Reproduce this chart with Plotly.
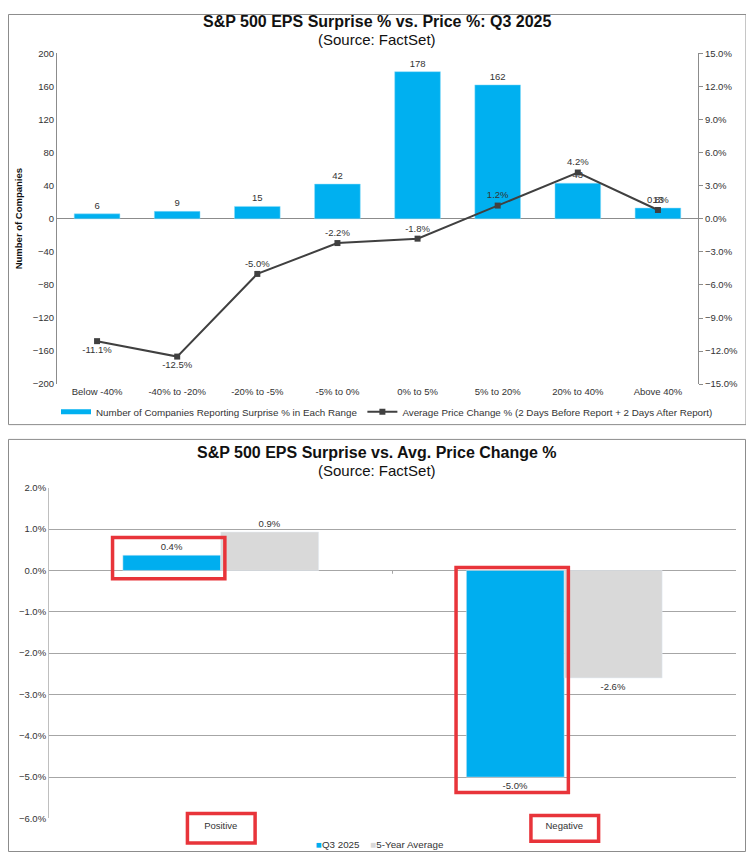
"""Two FactSet-style charts: EPS surprise buckets vs. price reaction, Q3 2025."""

import plotly.graph_objects as go

# the page body keeps its default 8px margin, so the figure is drawn inside it
PAGE_W, PAGE_H, OFF = 754, 865, 8
W, H = PAGE_W - 2 * OFF, PAGE_H - 2 * OFF

# --- top chart data ---
surprise_ranges = [
    "Below -40%", "-40% to -20%", "-20% to -5%", "-5% to 0%",
    "0% to 5%", "5% to 20%", "20% to 40%", "Above 40%",
]
company_counts = [6, 9, 15, 42, 178, 162, 43, 13]
avg_price_change = [-11.1, -12.5, -5.0, -2.2, -1.8, 1.2, 4.2, 0.8]
price_label_pos = [
    "bottom center", "bottom center", "top center", "top center",
    "top center", "top center", "top center", "top center",
]

# --- bottom chart data ---
surprise_sign = ["Positive", "Negative"]
q3_2025_change = [0.37, -5.0]
five_year_avg_change = [0.93, -2.6]

BLUE = "#00B0F0"
GREY_BAR = "#D9D9D9"
LINE = "#404040"
RED = "#E8343A"
AXIS = "#8C8C8C"
FONT = "Liberation Sans, Arial, sans-serif"


def px_x(p):
    """Page pixel column -> paper x."""
    return (p - OFF) / W


def px_y(p):
    """Page pixel row -> paper y."""
    return 1 - (p - OFF) / H


fig = go.Figure()

# top: bars on the left axis, price line on the right axis
fig.add_trace(go.Bar(
    x=surprise_ranges, y=company_counts, marker_color=BLUE,
    marker_line=dict(color="#8FDCF8", width=0.5),
    text=company_counts, textposition="outside",
    textfont=dict(size=9.5, color="#333"), cliponaxis=False,
    xaxis="x", yaxis="y", showlegend=False,
))
fig.add_trace(go.Scatter(
    x=[None], y=[None], mode="lines", line=dict(color=BLUE, width=5),
    name="Number of Companies Reporting Surprise % in Each Range",
    xaxis="x", yaxis="y", legend="legend",
))
fig.add_trace(go.Scatter(
    x=surprise_ranges, y=avg_price_change, mode="lines+markers+text",
    line=dict(color=LINE, width=2),
    marker=dict(symbol="square", size=6, color=LINE),
    text=[f"{v:.1f}%" for v in avg_price_change],
    textposition=price_label_pos, textfont=dict(size=9.5, color="#333"),
    cliponaxis=False,
    name="Average Price Change % (2 Days Before Report + 2 Days After Report)",
    xaxis="x", yaxis="y2", legend="legend",
))

# bottom: grouped bars
fig.add_trace(go.Bar(
    x=surprise_sign, y=q3_2025_change, name="Q3 2025", marker_color="#00AEEF",
    texttemplate="%{y:.1f}%", textposition="outside",
    textfont=dict(size=9.5, color="#333"), cliponaxis=False,
    xaxis="x3", yaxis="y3", showlegend=False,
))
fig.add_trace(go.Bar(
    x=surprise_sign, y=five_year_avg_change, name="5-Year Average",
    marker_color=GREY_BAR,
    texttemplate="%{y:.1f}%", textposition="outside",
    textfont=dict(size=9.5, color="#333"), cliponaxis=False,
    xaxis="x3", yaxis="y3", showlegend=False,
))

tick_font = dict(family=FONT, size=9.5, color="#333")

fig.update_layout(
    width=W, height=H,
    margin=dict(l=0, r=0, t=0, b=0),
    paper_bgcolor="white", plot_bgcolor="white",
    font=dict(family=FONT, size=10, color="#333"),
    barmode="group", bargap=0.43,
    xaxis=dict(
        domain=[px_x(57), px_x(698)], anchor="y",
        showline=False, showgrid=False, ticks="", tickfont=tick_font,
    ),
    yaxis=dict(
        domain=[px_y(383), px_y(48)], anchor="x",
        range=[-200, 200], dtick=40, showgrid=False,
        showline=True, linecolor=AXIS, linewidth=1,
        zeroline=True, zerolinecolor=AXIS, zerolinewidth=1,
        ticks="", tickfont=tick_font,
    ),
    yaxis2=dict(
        overlaying="y", side="right", anchor="x",
        range=[-15, 15], dtick=3, tickformat=".1f", ticksuffix="%",
        showgrid=False, zeroline=False,
        showline=True, linecolor=AXIS, linewidth=1,
        ticks="outside", ticklen=4, tickcolor=AXIS, tickfont=tick_font,
    ),
    xaxis3=dict(
        domain=[px_x(49), px_x(736)], anchor="y3",
        showline=False, showgrid=False, ticks="", tickfont=tick_font,
    ),
    yaxis3=dict(
        domain=[px_y(823), px_y(488)], anchor="x3",
        range=[-6, 2], dtick=1, tickformat=".1f", ticksuffix="%",
        showgrid=True, gridcolor="#A6A6A6", gridwidth=1,
        zeroline=True, zerolinecolor="#A6A6A6", zerolinewidth=1,
        showline=True, linecolor="#BFBFBF", linewidth=1,
        ticks="", tickfont=tick_font,
    ),
    legend=dict(
        orientation="h", x=px_x(56), xanchor="left",
        y=px_y(411), yanchor="middle",
        font=dict(family=FONT, size=9.8, color="#333"),
        itemwidth=30, bgcolor="rgba(0,0,0,0)",
    ),
)

# titles
for title, sub, ty, sy in [
    ("S&P 500 EPS Surprise % vs. Price %: Q3 2025", "(Source: FactSet)", 15.5, 34),
    ("S&P 500 EPS Surprise vs. Avg. Price Change %", "(Source: FactSet)", 452, 470.5),
]:
    fig.add_annotation(x=0.5, y=px_y(ty), xref="paper", yref="paper",
                       xanchor="center", yanchor="middle",
                       text=f"<b>{title}</b>", showarrow=False,
                       font=dict(family=FONT, size=16, color="#111"))
    fig.add_annotation(x=0.5, y=px_y(sy), xref="paper", yref="paper",
                       xanchor="center", yanchor="middle",
                       text=sub, showarrow=False,
                       font=dict(family=FONT, size=15, color="#111"))

fig.add_annotation(
    x=px_x(18), y=px_y(216), xref="paper", yref="paper",
    xanchor="center", yanchor="middle",
    text="<b>Number of Companies</b>", textangle=-90, showarrow=False,
    font=dict(family=FONT, size=9.5, color="#111"),
)

# bottom legend, small square swatches like the source
fig.add_annotation(
    x=px_x(380), y=px_y(849), xref="paper", yref="paper",
    xanchor="center", yanchor="middle", showarrow=False,
    text=("<span style='color:#00AEEF'>■</span>Q3 2025"
          f"    <span style='color:{GREY_BAR}'>■</span>5-Year Average"),
    font=dict(family=FONT, size=9.8, color="#333"),
)

# chart frames
fig.add_shape(type="rect", xref="paper", yref="paper",
              x0=px_x(8.5), x1=px_x(746), y0=px_y(424), y1=px_y(8.5),
              line=dict(color="#8C8C8C", width=1))
fig.add_shape(type="rect", xref="paper", yref="paper",
              x0=px_x(8.5), x1=px_x(745.5), y0=px_y(856.5), y1=px_y(439),
              line=dict(color="#8C8C8C", width=1))

# category divider tick on the zero line
fig.add_shape(type="line", xref="x3", yref="y3", x0=0.5, x1=0.5, y0=0, y1=-0.08,
              line=dict(color="#A6A6A6", width=1))

# red highlight boxes around the Q3 2025 bars
for cat, y0, y1 in [(0, -0.2, 0.8), (1, -5.37, 0.07)]:
    fig.add_shape(type="rect", xref="x3", yref="y3",
                  x0=cat - 0.315, x1=cat + 0.012, y0=y0, y1=y1,
                  line=dict(color=RED, width=3.5))

# red boxes around the category labels
for cat, top, bot in [(0, 818, 848), (1, 820, 846)]:
    fig.add_shape(type="rect", xref="x3", yref="paper",
                  x0=cat - 0.097, x1=cat + 0.1, y0=px_y(bot), y1=px_y(top),
                  line=dict(color=RED, width=3.5))

fig.write_html("out.html")
